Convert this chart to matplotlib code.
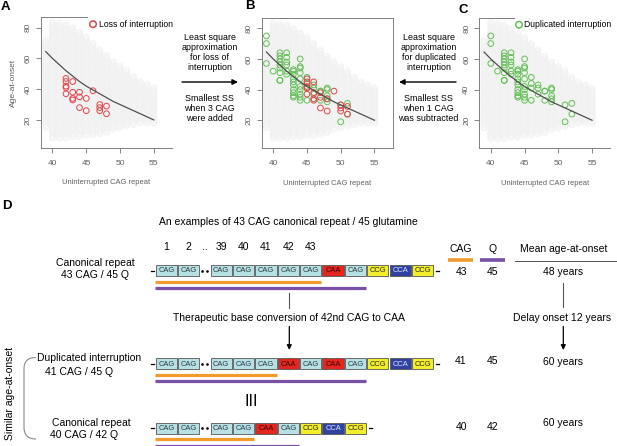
import numpy as np
import matplotlib
matplotlib.use('Agg')
import matplotlib.pyplot as plt
from matplotlib.patches import Rectangle, PathPatch
from matplotlib.path import Path

plt.rcParams['font.family'] = ['Liberation Sans', 'DejaVu Sans']

W, H = 617, 446

# ---------------- data ----------------
bg_x = [39, 40, 41, 42, 43, 44, 45, 46, 47, 48, 49, 50, 51, 52, 53, 54, 55]
bg_top = [72, 84, 83, 82, 80, 77, 74, 70, 66, 62, 58, 55, 52, 48, 45, 43, 41]
bg_bottom = [15, 8, 8, 8, 9, 9, 10, 10, 11, 12, 14, 15, 16, 17, 18, 18, 18]

fit_x = [39, 40, 41, 42, 43, 44, 45, 46, 47, 48, 49, 50, 51, 52, 53, 54, 55]
fit_y = [64.5, 60, 56, 52, 48.5, 45, 42, 39.5, 37, 34.5, 32, 30, 28, 26, 24, 22, 20]

loss_x = [42, 42, 42, 42, 42, 43, 43, 43, 43, 44, 44, 44, 45, 45, 46, 47, 47, 47, 48, 48]
loss_y = [47, 45, 42, 41, 37, 45, 38, 34, 33, 38, 35, 28, 34, 26, 39, 30, 28, 26, 29, 24]

dup_x = [40, 40, 40, 41,
         42, 42, 42, 42, 42, 42, 42, 42, 42,
         43, 43, 43, 43, 43, 43,
         44, 44, 44, 44, 44, 44, 44, 44, 44, 44,
         45, 45, 45, 45, 45, 45, 45, 45, 45, 45,
         46, 46, 46, 46, 47, 47, 47, 48, 48, 48,
         49, 49, 49, 49, 49, 51, 51, 52, 52]
dup_y = [75, 70, 57, 52,
         64, 62, 60, 58, 56, 54, 51, 46, 46,
         64, 61, 58, 56, 52, 50,
         53, 52, 50, 47, 45, 43, 40, 38, 36, 35,
         60, 55, 54, 51, 47, 42, 40, 37, 35, 33,
         48, 44, 41, 33, 43, 41, 37, 39, 39, 33,
         41, 40, 36, 34, 32, 30, 19, 31, 24]

loss_shift = 3    # CAG added for panel B
dup_shift = -1    # CAG subtracted for panel B

row_codons = [
    ['CAG', 'CAG', '..', 'CAG', 'CAG', 'CAG', 'CAG', 'CAG', 'CAA', 'CAG', 'CCG', 'CCA', 'CCG'],
    ['CAG', 'CAG', '..', 'CAG', 'CAG', 'CAG', 'CAA', 'CAG', 'CAA', 'CAG', 'CCG', 'CCA', 'CCG'],
    ['CAG', 'CAG', '..', 'CAG', 'CAG', 'CAA', 'CAG', 'CCG', 'CCA', 'CCG'],
]
row_numbers = ['1', '2', '..', '39', '40', '41', '42', '43']
row_labels = [('Canonical repeat', '43 CAG / 45 Q'),
              ('Duplicated interruption', '41 CAG / 45 Q'),
              ('Canonical repeat', '40 CAG / 42 Q')]
cag_counts = [43, 41, 40]
q_counts = [45, 45, 42]
onset_text = ['48 years', '60 years', '60 years']

RED = '#e0464b'
GREEN = '#62bf55'
ORANGE = '#f39a2c'
PURPLE = '#7a4fa6'

fig = plt.figure(figsize=(W / 100, H / 100), dpi=100)

# overlay in pixel coordinates
ov = fig.add_axes([0, 0, 1, 1])
ov.set_xlim(0, W)
ov.set_ylim(H, 0)
ov.axis('off')


def px_rect(l, t, r, b):
    return [l / W, 1 - b / H, (r - l) / W, (b - t) / H]


def scatter_panel(rect, red=None, green=None, legend=None, ylabel=False, hide_right=False):
    ax = fig.add_axes(rect)
    for x, lo, hi in zip(bg_x, bg_bottom, bg_top):
        ys = np.arange(lo, hi + 1)
        ax.scatter(np.full(len(ys), x), ys, s=17, facecolors='none',
                   edgecolors='#f1f1f1', linewidths=0.6, zorder=1)
    ax.plot(fit_x, fit_y, color='#505050', lw=0.9, zorder=4)
    if green is not None:
        ax.scatter(green[0], green[1], s=17, facecolors='none', edgecolors=GREEN,
                   linewidths=0.7, zorder=3)
    if red is not None:
        ax.scatter(red[0], red[1], s=17, facecolors='none', edgecolors=RED,
                   linewidths=0.7, zorder=3)
    ax.set_xlim(38.3, 57.7)
    ax.set_ylim(1.7, 87.0)
    ax.set_xticks([40, 45, 50, 55])
    ax.set_yticks([20, 40, 60, 80])
    for lab in ax.get_yticklabels():
        lab.set_rotation(90)
        lab.set_va('center')
    ax.tick_params(axis='both', direction='out', length=3.5, width=0.6,
                   colors='#707070', labelsize=6, labelcolor='#606060')
    ax.tick_params(axis='x', pad=5)
    ax.tick_params(axis='y', pad=3)
    for sp in ax.spines.values():
        sp.set_color('#808080')
        sp.set_linewidth(0.7)
    if hide_right:
        ax.spines['right'].set_visible(False)
    ax.set_xlabel('Uninterrupted CAG repeat', fontsize=5.4, color='#606060', labelpad=9)
    if ylabel:
        ax.set_ylabel('Age-at-onset', fontsize=6, color='#606060', labelpad=6)
    if legend is not None:
        text, col, mx, tx, box_l = legend
        ax.add_patch(Rectangle((box_l, 0.9), 1.2, 0.2, transform=ax.transAxes,
                               facecolor='white', edgecolor='none', zorder=6, clip_on=False))
        ax.scatter([mx], [0.945], s=22, facecolors='none', edgecolors=col,
                   linewidths=1.1, transform=ax.transAxes, zorder=7, clip_on=False)
        ax.text(tx, 0.945, text, transform=ax.transAxes, fontsize=6.2,
                va='center', ha='left', zorder=7, clip_on=False)
    ax.set_facecolor('none')
    return ax


scatter_panel(px_rect(41, 17, 172, 148), red=(loss_x, loss_y),
              legend=('Loss of interruption', RED, 0.397, 0.44, 0.36),
              ylabel=True, hide_right=True)
scatter_panel(px_rect(261.7, 17.5, 392.7, 148.3),
              red=(np.array(loss_x) + loss_shift, loss_y),
              green=(np.array(dup_x) + dup_shift, dup_y))
scatter_panel(px_rect(479.3, 17.5, 610.3, 148.3), green=(dup_x, dup_y),
              legend=('Duplicated interruption', GREEN, 0.303, 0.345, 0.27),
              hide_right=True)

# panel letters
for letter, x, y in [('A', 5, 7), ('B', 250, 6), ('C', 463, 10), ('D', 7, 206)]:
    ov.text(x, y, letter, fontsize=9.5, fontweight='bold', ha='center', va='center')

# annotations between panels
ov.text(209.5, 52.5, 'Least square\napproximation\nfor loss of\ninterruption',
        ha='center', va='center', fontsize=6.4, linespacing=1.15)
ov.text(209.5, 108.5, 'Smallest SS\nwhen 3 CAG\nwere added',
        ha='center', va='center', fontsize=6.4, linespacing=1.15)
ov.annotate('', xy=(238, 82), xytext=(182, 82),
            arrowprops=dict(arrowstyle='-|>', color='black', lw=1.0, mutation_scale=8,
                            shrinkA=0, shrinkB=0))
ov.text(428.7, 52.5, 'Least square\napproximation\nfor duplicated\ninterruption',
        ha='center', va='center', fontsize=6.4, linespacing=1.15)
ov.text(428.7, 108.5, 'Smallest SS\nwhen 1 CAG\nwas subtracted',
        ha='center', va='center', fontsize=6.4, linespacing=1.15)
ov.annotate('', xy=(399, 82), xytext=(456, 82),
            arrowprops=dict(arrowstyle='-|>', color='black', lw=1.0, mutation_scale=8,
                            shrinkA=0, shrinkB=0))

# ---------------- panel D ----------------
FS = 7.5
ov.text(288.5, 222, 'An examples of 43 CAG canonical repeat / 45 glutamine',
        ha='center', va='center', fontsize=FS)

codon_style = {'CAG': ('#b6e0e4', '#2b3b3d'),
               'CAA': ('#e3271f', '#3a0404'),
               'CCG': ('#f3ee2c', '#2a2a2a'),
               'CCA': ('#3043a0', '#dfe3ff')}

X0, PITCH, BW, BH, DOTW = 155.7, 22.4, 21.2, 10.8, 10.0
row_y = [270.5, 363.7, 428.3]


def draw_row(codons, yc):
    x = X0
    ov.plot([151, 154], [yc, yc], color='black', lw=0.9)
    centers = []
    ends = []
    for c in codons:
        if c == '..':
            ov.scatter([x + 1.8, x + 6.8], [yc, yc], s=0.8, color='black', zorder=5)
            centers.append(x + 4.3)
            ends.append(None)
            x += DOTW
            continue
        fc, tc = codon_style[c]
        ov.add_patch(Rectangle((x, yc - BH / 2), BW, BH, facecolor=fc,
                               edgecolor='#555555', lw=0.6, zorder=3))
        ov.text(x + BW / 2, yc + 0.3, c, ha='center', va='center', fontsize=5.4,
                color=tc, zorder=4)
        centers.append(x + BW / 2)
        ends.append(x + BW)
        x += PITCH
    ov.plot([x + 1.5, x + 4.5], [yc, yc], color='black', lw=0.9)
    # uninterrupted CAG stretch and polyQ stretch derived from sequence
    first_caa = codons.index('CAA')
    orange_end = max(e for e in ends[:first_caa] if e is not None)
    first_ccg = codons.index('CCG')
    purple_end = max(e for e in ends[:first_ccg] if e is not None)
    ov.plot([X0 - 0.7, orange_end], [yc + 11, yc + 11], color=ORANGE, lw=2.3,
            solid_capstyle='butt')
    ov.plot([X0 - 0.7, purple_end], [yc + 17.5, yc + 17.5], color=PURPLE, lw=2.3,
            solid_capstyle='butt')
    return centers


centers1 = None
for i, (codons, yc) in enumerate(zip(row_codons, row_y)):
    c = draw_row(codons, yc)
    if i == 0:
        centers1 = c

for lab, cx in zip(row_numbers, centers1):
    ov.text(cx, 246.5, lab, ha='center', va='center', fontsize=FS)

# left labels
ov.text(95, 262.5, row_labels[0][0], ha='center', va='center', fontsize=FS)
ov.text(95, 275.5, row_labels[0][1], ha='center', va='center', fontsize=FS)
ov.text(89, 358.3, row_labels[1][0], ha='center', va='center', fontsize=FS)
ov.text(79, 371.7, row_labels[1][1], ha='center', va='center', fontsize=FS)
ov.text(91.7, 422.7, row_labels[2][0], ha='center', va='center', fontsize=FS)
ov.text(84, 435, row_labels[2][1], ha='center', va='center', fontsize=FS)

# headers
ov.text(461, 249.3, 'CAG', ha='center', va='center', fontsize=FS)
ov.text(492.7, 249.3, 'Q', ha='center', va='center', fontsize=FS)
ov.text(563.3, 249.3, 'Mean age-at-onset', ha='center', va='center', fontsize=FS)
ov.plot([448.3, 473.3], [260, 260], color=ORANGE, lw=2.6, solid_capstyle='butt')
ov.plot([480, 505], [260, 260], color=PURPLE, lw=2.6, solid_capstyle='butt')
ov.plot([515, 616.5], [260.7, 260.7], color='#555555', lw=0.7)

val_y = [271.7, 361.5, 426.7]
onset_y = [271.7, 361.7, 422.7]
for cag, q, ons, vy, oy in zip(cag_counts, q_counts, onset_text, val_y, onset_y):
    ov.text(461, vy, str(cag), ha='center', va='center', fontsize=FS)
    ov.text(492.7, vy, str(q), ha='center', va='center', fontsize=FS)
    ov.text(563.3, oy, ons, ha='center', va='center', fontsize=FS)

# connectors and arrows
ov.plot([289.3, 289.3], [293.3, 308.3], color='#555555', lw=0.8)
ov.text(289.3, 317.7, 'Therapeutic base conversion of 42nd CAG to CAA',
        ha='center', va='center', fontsize=FS)
ov.annotate('', xy=(289.3, 350), xytext=(289.3, 326.5),
            arrowprops=dict(arrowstyle='-|>', color='black', lw=0.9, mutation_scale=7,
                            shrinkA=0, shrinkB=0))
ov.plot([563.3, 563.3], [282.7, 306.7], color='#555555', lw=0.8)
ov.text(562.3, 317.7, 'Delay onset 12 years', ha='center', va='center', fontsize=FS)
ov.annotate('', xy=(563.3, 350), xytext=(563.3, 326.5),
            arrowprops=dict(arrowstyle='-|>', color='black', lw=0.9, mutation_scale=7,
                            shrinkA=0, shrinkB=0))

ov.text(251, 401.7, 'III', ha='center', va='center', fontsize=11.5)

# bracket + label
verts = [(36, 357.5), (27, 357.5), (24, 362), (24, 369),
         (24, 427),
         (24, 434), (27, 439), (36, 439)]
codes = [Path.MOVETO, Path.CURVE4, Path.CURVE4, Path.CURVE4,
         Path.LINETO,
         Path.CURVE4, Path.CURVE4, Path.CURVE4]
ov.add_patch(PathPatch(Path(verts, codes), facecolor='none', edgecolor='#8a8a8a', lw=0.8))
ov.text(10, 393, 'Similar age-at-onset', rotation=90, ha='center', va='center', fontsize=FS)

fig.savefig('out.png', dpi=100)
